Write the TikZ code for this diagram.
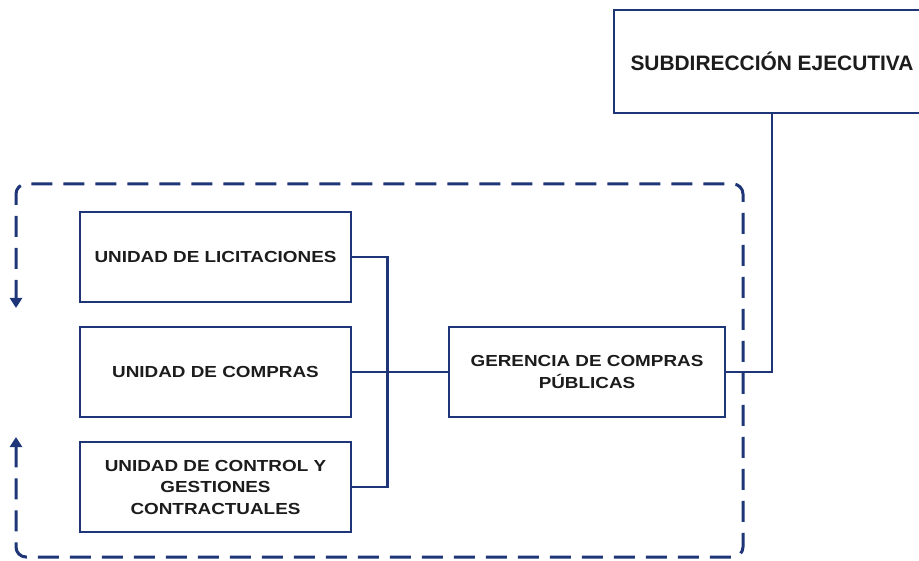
\documentclass[tikz,border=0pt]{standalone}
\usepackage{fontspec}
\setmainfont{Liberation Sans}
\newfontfamily\unitfont[FakeStretch=1.18]{Liberation Sans}
\usetikzlibrary{arrows.meta}
\definecolor{navy}{RGB}{30,54,120}
\definecolor{ink}{RGB}{28,28,28}

\begin{document}
\begin{tikzpicture}[x=1pt, y=-1pt,
        unit/.style={draw=navy, line width=2.8pt, fill=white, text=ink, align=center, inner sep=0pt,
            minimum width=271pt, minimum height=90pt, font=\unitfont\bfseries\fontsize{16}{21.5}\selectfont},
        link/.style={draw=navy, line width=2.8pt},
        frame/.style={draw=navy, line width=3pt, dash pattern=on 21pt off 11pt, rounded corners=10pt}]
        \clip (0, 0) rectangle (919, 561);

        \draw[frame, {Triangle[width=12pt, length=10pt]}-{Triangle[width=12pt, length=10pt]}]
            (16, 437) -- (16, 557) -- (743, 557) -- (743, 184) -- (16, 184) -- (16, 308);

        \node[unit, minimum width=316pt, minimum height=103pt, font=\bfseries\fontsize{20.9}{25}\selectfont] (S) at (772, 61.5) {SUBDIRECCIÓN EJECUTIVA};
        \node[unit] (U1) at (215.5, 257) {UNIDAD DE LICITACIONES};
        \node[unit] (U2) at (215.5, 372) {UNIDAD DE COMPRAS};
        \node[unit] (U3) at (215.5, 487) {UNIDAD DE CONTROL Y\\GESTIONES\\CONTRACTUALES};
        \node[unit, minimum width=276pt] (G) at (587, 372) {GERENCIA DE COMPRAS\\PÚBLICAS};

        \draw[link] (U1.east) -- ++(35, 0) |- (U3.east);
        \draw[link] (U2.east) -- (G.west);
        \draw[link] (G.east) -| (S.south);
    \end{tikzpicture}
\end{document}
